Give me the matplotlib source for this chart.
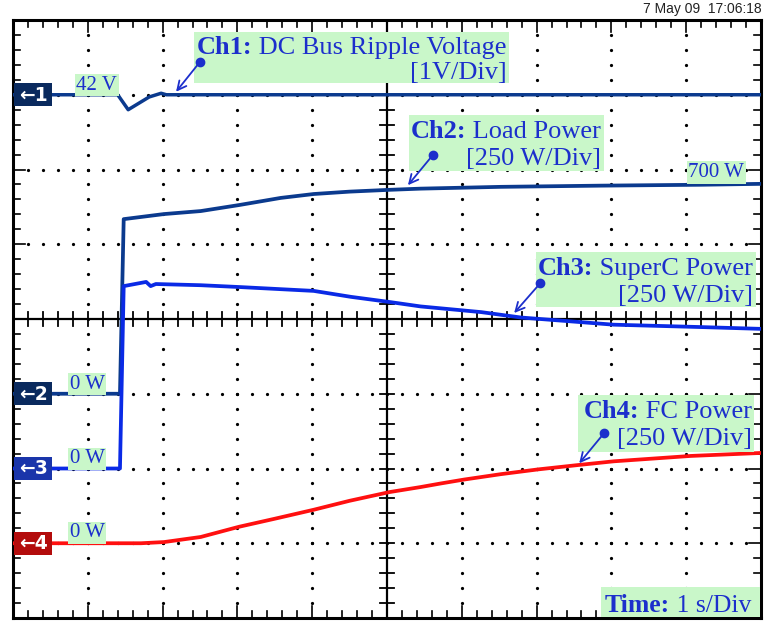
import matplotlib.pyplot as plt
from matplotlib.patches import Rectangle
import numpy as np

# ---- scope settings (division units: 10 x 8 screen) ----
# Ch1 : DC bus voltage, 1 V/div, 42 V at div 7
# Ch2-4 : power, 250 W/div, 0 W at div 3, 2, 1
time_ch1 = [0, 1.40, 1.54, 1.82, 1.98, 2.05, 4.0, 7.0, 10]
volt_ch1 = [42, 42, 41.80, 41.97, 42.02, 42.0, 42.0, 42.0, 42.0]

time_ch2 = [0, 1.43, 1.48, 2.02, 2.51, 3.02, 3.58, 4.02, 4.5, 5.03, 5.45,
            6.52, 7.86, 9.2, 10]
load_ch2 = [0, 0, 584, 601, 611, 631, 655, 668, 676, 682, 686,
            692, 696, 699, 702]

time_ch3 = [0, 1.43, 1.48, 1.78, 1.84, 1.91, 2.51, 3.02, 4.02, 4.52, 5.03,
            5.45, 6.26, 6.79, 8.03, 9.2, 10]
supc_ch3 = [0, 0, 610, 624, 610, 617, 613, 607, 594, 574, 557,
            542, 523, 505, 481, 473, 467]

time_ch4 = [0, 1.71, 2.02, 2.51, 3.02, 3.5, 4.02, 4.5, 5.03, 5.45, 5.72,
            6.03, 6.52, 7.02, 7.57, 8.03, 9.06, 10]
fc_ch4 = [0, 0, 4, 21, 55, 82, 112, 142, 171, 188, 200,
          213, 231, 247, 262, 274, 292, 302]

v_offset, v_scale = 7, 1.0
p_offsets = {"ch2": 3, "ch3": 2, "ch4": 1}
p_scale = 250.0

GREEN = "#c9f7c9"
TXT = "#1c2fcc"
SERIF = "Liberation Serif"

fig = plt.figure(figsize=(7.64, 6.28), dpi=100)
ax = fig.add_axes([13 / 764, 10 / 628, 748 / 764, 598 / 628])
ax.set_xlim(0, 10)
ax.set_ylim(0, 8)
ax.set_xticks([])
ax.set_yticks([])
for s in ax.spines.values():
    s.set_linewidth(2.2)

# -------------------------
# graticule
# -------------------------
pxx = 10 / 748
pxy = 8 / 598
fine = np.arange(0, 10.01, 0.2)
fine_y = np.arange(0, 8.01, 0.2)
for gx in range(1, 10):
    if gx != 5:
        ax.plot(np.full(len(fine_y), gx), fine_y, ls="", marker="o", ms=1.3,
                color="black", zorder=1)
for gy in range(1, 8):
    if gy != 4:
        ax.plot(fine, np.full(len(fine), gy), ls="", marker="o", ms=1.3,
                color="black", zorder=1)
ax.axhline(4, color="black", lw=1.6, zorder=1)
ax.axvline(5, color="black", lw=1.6, zorder=1)

for x in fine:
    major = abs(x - round(x)) < 1e-6
    L = (12 if major else 7) * pxy
    ax.plot([x, x], [8, 8 - L], color="black", lw=1.2, zorder=1)
    ax.plot([x, x], [0, L], color="black", lw=1.2, zorder=1)
    ax.plot([x, x], [4 - 7 * pxy, 4 + 7 * pxy], color="black", lw=1.3, zorder=1)
for y in fine_y:
    major = abs(y - round(y)) < 1e-6
    L = (12 if major else 7) * pxx
    ax.plot([0, L], [y, y], color="black", lw=1.2, zorder=1)
    ax.plot([10, 10 - L], [y, y], color="black", lw=1.2, zorder=1)
    ax.plot([5 - 7 * pxx, 5 + 7 * pxx], [y, y], color="black", lw=1.3, zorder=1)

# -------------------------
# traces
# -------------------------
ax.plot(time_ch1, v_offset + (np.array(volt_ch1) - 42) / v_scale,
        color="#0b3a8e", lw=2.5, zorder=3)
ax.plot(time_ch2, p_offsets["ch2"] + np.array(load_ch2) / p_scale,
        color="#0b3a8e", lw=2.7, zorder=3)
ax.plot(time_ch3, p_offsets["ch3"] + np.array(supc_ch3) / p_scale,
        color="#0a2ae6", lw=2.7, zorder=4)
ax.plot(time_ch4, p_offsets["ch4"] + np.array(fc_ch4) / p_scale,
        color="#ff1010", lw=2.7, zorder=3)

# -------------------------
# channel markers on the left
# -------------------------
markers = [("1", v_offset, "#0a2a5e"), ("2", p_offsets["ch2"], "#0a2a5e"),
           ("3", p_offsets["ch3"], "#1a35aa"), ("4", p_offsets["ch4"], "#b30c0c")]
for lab, lvl, col in markers:
    ax.add_patch(Rectangle((0.02, lvl - 0.155), 0.50, 0.31, fc=col, ec="none",
                           zorder=6, clip_on=False))
    ax.text(0.27, lvl - 0.005, "\u2190" + lab, color="white", fontsize=13.5,
            fontweight="bold", ha="center", va="center", zorder=7,
            family="DejaVu Sans")

# small level labels
small = [("42 V", 1.12, 7.13), ("0 W", 0.99, 3.13), ("0 W", 0.99, 2.13),
         ("0 W", 0.99, 1.14), ("700 W", 9.40, 5.96)]
for s, x, y in small:
    ax.text(x, y, s, color=TXT, fontsize=15, family=SERIF, ha="center",
            va="center", zorder=6,
            bbox=dict(boxstyle="square,pad=0.08", fc=GREEN, ec="none"))

# -------------------------
# channel annotation boxes
# -------------------------
boxes = [
    ("Ch1:", " DC Bus Ripple Voltage", "[1V/Div]",
     (2.42, 7.16, 4.21, 0.68), 6.60, 7.545, 7.21, (2.50, 7.44), (2.18, 7.04)),
    ("Ch2:", " Load Power", "[250 W/Div]",
     (5.29, 5.98, 2.61, 0.75), 7.86, 6.42, 6.06, (5.61, 6.19), (5.28, 5.79)),
    ("Ch3:", " SuperC Power", "[250 W/Div]",
     (6.99, 4.16, 2.94, 0.74), 9.89, 4.59, 4.23, (7.05, 4.48), (6.70, 4.08)),
    ("Ch4:", " FC Power", "[250 W/Div]",
     (7.55, 2.22, 2.36, 0.76), 9.88, 2.68, 2.31, (7.90, 2.47), (7.57, 2.07)),
]
for bold, rest, line2, rect, xr, y1, y2, dot, tip in boxes:
    ax.add_patch(Rectangle(rect[:2], rect[2], rect[3], fc=GREEN, ec="none",
                           zorder=5))
    t = ax.text(xr, y1, rest, color=TXT, fontsize=19, family=SERIF,
                ha="right", va="baseline", zorder=6)
    ax.annotate(bold, xy=(0, 0), xycoords=t, color=TXT, fontsize=19,
                family=SERIF, fontweight="bold", ha="right", va="bottom",
                zorder=6)
    ax.text(xr, y2, line2, color=TXT, fontsize=19, family=SERIF,
            ha="right", va="baseline", zorder=6)
    ax.annotate("", xy=tip, xytext=dot, zorder=7,
                arrowprops=dict(arrowstyle="->", color=TXT, lw=1.3,
                                mutation_scale=16, shrinkA=0, shrinkB=0))
    ax.plot(*dot, marker="o", ms=6, color=TXT, zorder=7)

# time base box
ax.add_patch(Rectangle((7.86, 0.02), 2.12, 0.39, fc=GREEN, ec="none", zorder=5))
tb = ax.text(7.91, 0.08, "Time:", color=TXT, fontsize=18.5, family=SERIF,
             fontweight="bold", ha="left", va="baseline", zorder=6)
ax.annotate(" 1 s/Div", xy=(1, 0), xycoords=tb, color=TXT, fontsize=18.5,
            family=SERIF, ha="left", va="bottom", zorder=6)

fig.text(762 / 764, 1 - 9 / 628, "7 May 09  17:06:18", ha="right",
         va="center", fontsize=10, family="Liberation Sans", color="#222222")

fig.savefig("out.png", dpi=100, facecolor="white")
